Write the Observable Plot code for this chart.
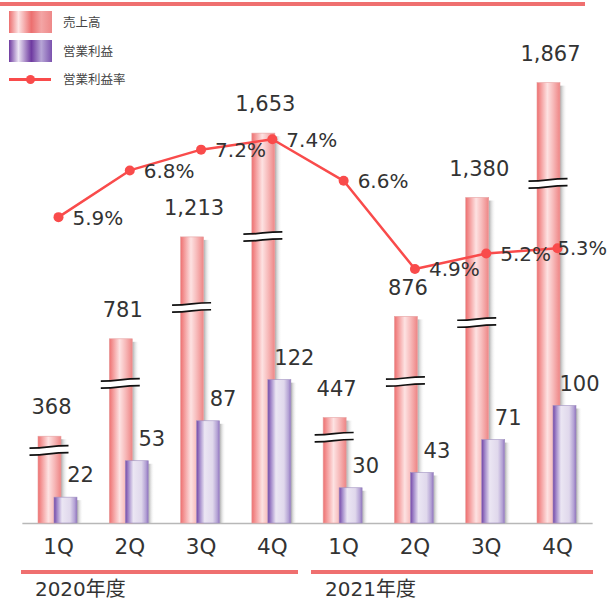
<!DOCTYPE html>
<html>
<head>
<meta charset="utf-8">
<script src="https://cdn.jsdelivr.net/npm/d3@7"></script>
<script src="https://cdn.jsdelivr.net/npm/@observablehq/plot@0.6"></script>
<style>
  html, body { margin: 0; padding: 0; background: #fff; }
  #chart { position: relative; width: 607px; height: 600px; overflow: hidden; font-family: "DejaVu Sans", "Noto Sans CJK JP", sans-serif; color: #333; }
  #chart svg.layer { position: absolute; left: 0; top: 0; }
  .abs { position: absolute; }
  .legtext { font-family: "Noto Sans CJK JP", sans-serif; font-size: 12.5px; color: #444; line-height: 16px; }
  .year { font-size: 20px; line-height: 22px; color: #333; white-space: nowrap; }
</style>
</head>
<body>
<div id="chart">
  <svg width="0" height="0" style="position:absolute">
    <defs>
      <linearGradient id="gPink" x1="0" x2="1" y1="0" y2="0">
        <stop offset="0" stop-color="#ee7070"/>
        <stop offset="0.2" stop-color="#f5a3a3"/>
        <stop offset="0.45" stop-color="#fde2e2"/>
        <stop offset="0.7" stop-color="#f7baba"/>
        <stop offset="1" stop-color="#ee8585"/>
      </linearGradient>
      <linearGradient id="gPurple" x1="0" x2="1" y1="0" y2="0">
        <stop offset="0" stop-color="#7447a8"/>
        <stop offset="0.15" stop-color="#a68ecc"/>
        <stop offset="0.35" stop-color="#ebe6f3"/>
        <stop offset="0.7" stop-color="#e0d8ec"/>
        <stop offset="0.9" stop-color="#b3a1d4"/>
        <stop offset="1" stop-color="#8f72be"/>
      </linearGradient>
      <linearGradient id="gShadow" x1="0" x2="1" y1="0" y2="0">
        <stop offset="0" stop-color="#9a9a9a" stop-opacity="0.85"/>
        <stop offset="1" stop-color="#ffffff" stop-opacity="0"/>
      </linearGradient>
    </defs>
  </svg>
</div>
<script>
// ---- data ----
const quarters = ["1Q", "2Q", "3Q", "4Q", "1Q", "2Q", "3Q", "4Q"];
const fiscalYears = ["2020年度", "2021年度"];
const sales = [368, 781, 1213, 1653, 447, 876, 1380, 1867];          // 売上高
const profit = [22, 53, 87, 122, 30, 43, 71, 100];                    // 営業利益
const profitRate = [5.9, 6.8, 7.2, 7.4, 6.6, 4.9, 5.2, 5.3];          // 営業利益率 (%)
const salesBreaks = [310, 594, 916, 1217, 366, 602, 852, 1442];       // axis-break marks on 売上高 bars
const seriesNames = ["売上高", "営業利益", "営業利益率"];

const rows = quarters.map((q, i) => ({
  i, q, sales: sales[i], profit: profit[i], rate: profitRate[i], brk: salesBreaks[i]
}));

// ---- layout ----
const W = 607, H = 600;
const mL = 58, mR = 50, mT = 10, mB = 77;
const unit = (W - mL - mR) / (quarters.length - 1);
const off = p => p / unit; // pixels -> x units
const font = "DejaVu Sans, Noto Sans CJK JP, sans-serif";
const base = {
  width: W, height: H, marginLeft: mL, marginRight: mR, marginTop: mT, marginBottom: mB,
  x: {domain: [0, quarters.length - 1], axis: null},
  style: {background: "transparent", fontFamily: font, color: "#333", overflow: "visible"}
};
const numFmt = d3.format(",");
const chart = document.getElementById("chart");

// Layer 1: 売上高
const salesPlot = Plot.plot({
  ...base,
  y: {domain: [0, 2175], axis: null},
  marks: [
    Plot.ruleY([0], {x1: -0.5, x2: quarters.length - 0.5, stroke: "#b8b8b8", strokeWidth: 1.5}),
    Plot.rect(rows, {x1: d => d.i + off(3), x2: d => d.i + off(10), y1: 0, y2: "sales", insetTop: 3, fill: "url(#gShadow)"}),
    Plot.rect(rows, {x1: d => d.i - off(20), x2: d => d.i + off(3), y1: 0, y2: "sales", fill: "url(#gPink)", stroke: "#e6a0a0", strokeWidth: 0.6}),
    Plot.link(rows, {x1: d => d.i - off(29), x2: d => d.i + off(10), y1: d => d.brk - 5, y2: d => d.brk + 5, curve: "bump-x", stroke: "#fff", strokeWidth: 6}),
    Plot.link(rows, {x1: d => d.i - off(29), x2: d => d.i + off(10), y1: d => d.brk - 5, y2: d => d.brk + 5, curve: "bump-x", stroke: "#111", strokeWidth: 1.7, dy: -3.5}),
    Plot.link(rows, {x1: d => d.i - off(29), x2: d => d.i + off(10), y1: d => d.brk - 5, y2: d => d.brk + 5, curve: "bump-x", stroke: "#111", strokeWidth: 1.7, dy: 3.5}),
    Plot.text(rows, {x: d => d.i - off(7), y: "sales", text: d => numFmt(d.sales), dy: -29, fontSize: 21, fill: "#333"}),
    Plot.axisX({ticks: d3.range(quarters.length), tickFormat: i => quarters[i], tickSize: 0, tickPadding: 15, fontSize: 21.5, fill: "#333"})
  ]
});
salesPlot.classList.add("layer");
chart.appendChild(salesPlot);

// Layer 2: 営業利益
const profitPlot = Plot.plot({
  ...base,
  y: {domain: [0, 436.6], axis: null},
  marks: [
    Plot.rect(rows, {x1: d => d.i + off(19), x2: d => d.i + off(25), y1: 0, y2: "profit", insetTop: 3, fill: "url(#gShadow)"}),
    Plot.rect(rows, {x1: d => d.i - off(4), x2: d => d.i + off(19), y1: 0, y2: "profit", fill: "url(#gPurple)", stroke: "#a090c0", strokeWidth: 0.6}),
    Plot.text(rows, {x: d => d.i + off(22), y: "profit", text: d => numFmt(d.profit), dy: -22, fontSize: 21, fill: "#333"})
  ]
});
profitPlot.classList.add("layer");
chart.appendChild(profitPlot);

// Layer 3: 営業利益率
const last = rows.length - 1;
const ratePlot = Plot.plot({
  ...base,
  y: {domain: [0, 9.88], axis: null},
  marks: [
    Plot.line(rows, {x: "i", y: "rate", stroke: "#f94b4b", strokeWidth: 2.5}),
    Plot.dot(rows, {x: "i", y: "rate", r: 5, fill: "#f94b4b"}),
    Plot.text(rows.filter(d => d.i !== last), {x: "i", y: "rate", text: d => d.rate.toFixed(1) + "%", dx: 14, dy: 1, textAnchor: "start", fontSize: 20, fill: "#333"}),
    Plot.text(rows.filter(d => d.i === last), {x: "i", y: "rate", text: d => d.rate.toFixed(1) + "%", dx: 0, dy: 0, textAnchor: "start", fontSize: 19.5, fill: "#333"})
  ]
});
ratePlot.classList.add("layer");
chart.appendChild(ratePlot);

// ---- decorations: top rule, legend, fiscal-year groups ----
const xs = salesPlot.scale("x");
function addDiv(css, html) {
  const el = document.createElement("div");
  el.className = "abs " + (css.cls || "");
  Object.assign(el.style, css.style || {});
  if (html) el.innerHTML = html;
  chart.appendChild(el);
  return el;
}
addDiv({style: {left: "0px", top: "2px", width: "585px", height: "4px", background: "#ef6f6f"}});

// legend
const swatches = [
  "linear-gradient(90deg,#ec6f6f 0%,#fde3e3 22%,#ec6f6f 52%,#f3a5a5 75%,#ee8888 100%)",
  "linear-gradient(90deg,#6e3aa0 0%,#ece6f4 22%,#6e3aa0 52%,#b7a6d6 75%,#7b52ae 100%)"
];
seriesNames.forEach((name, k) => {
  const cy = 22 + k * 28.5;
  if (k < 2) {
    addDiv({style: {left: "9px", top: (cy - 11) + "px", width: "43px", height: "22px", background: swatches[k]}});
  } else {
    addDiv({style: {left: "9px", top: (cy - 1.5) + "px", width: "42px", height: "3px", background: "#f94b4b"}});
    addDiv({style: {left: "26px", top: (cy - 4.5) + "px", width: "9px", height: "9px", borderRadius: "50%", background: "#f94b4b"}});
  }
  addDiv({cls: "legtext", style: {left: "63px", top: (cy - 8) + "px"}}, name);
});

// fiscal-year groups under the axis
const groups = [
  {label: fiscalYears[0], from: -0.52, to: 3.37},
  {label: fiscalYears[1], from: 3.55, to: quarters.length - 0.5}
];
groups.forEach(g => {
  const a = xs.apply(g.from), b = xs.apply(g.to);
  addDiv({style: {left: a + "px", top: "570px", width: (b - a) + "px", height: "4px", background: "#ef6f6f"}});
  addDiv({cls: "year", style: {left: (a + 14) + "px", top: "578px"}}, g.label);
});
</script>
</body>
</html>
